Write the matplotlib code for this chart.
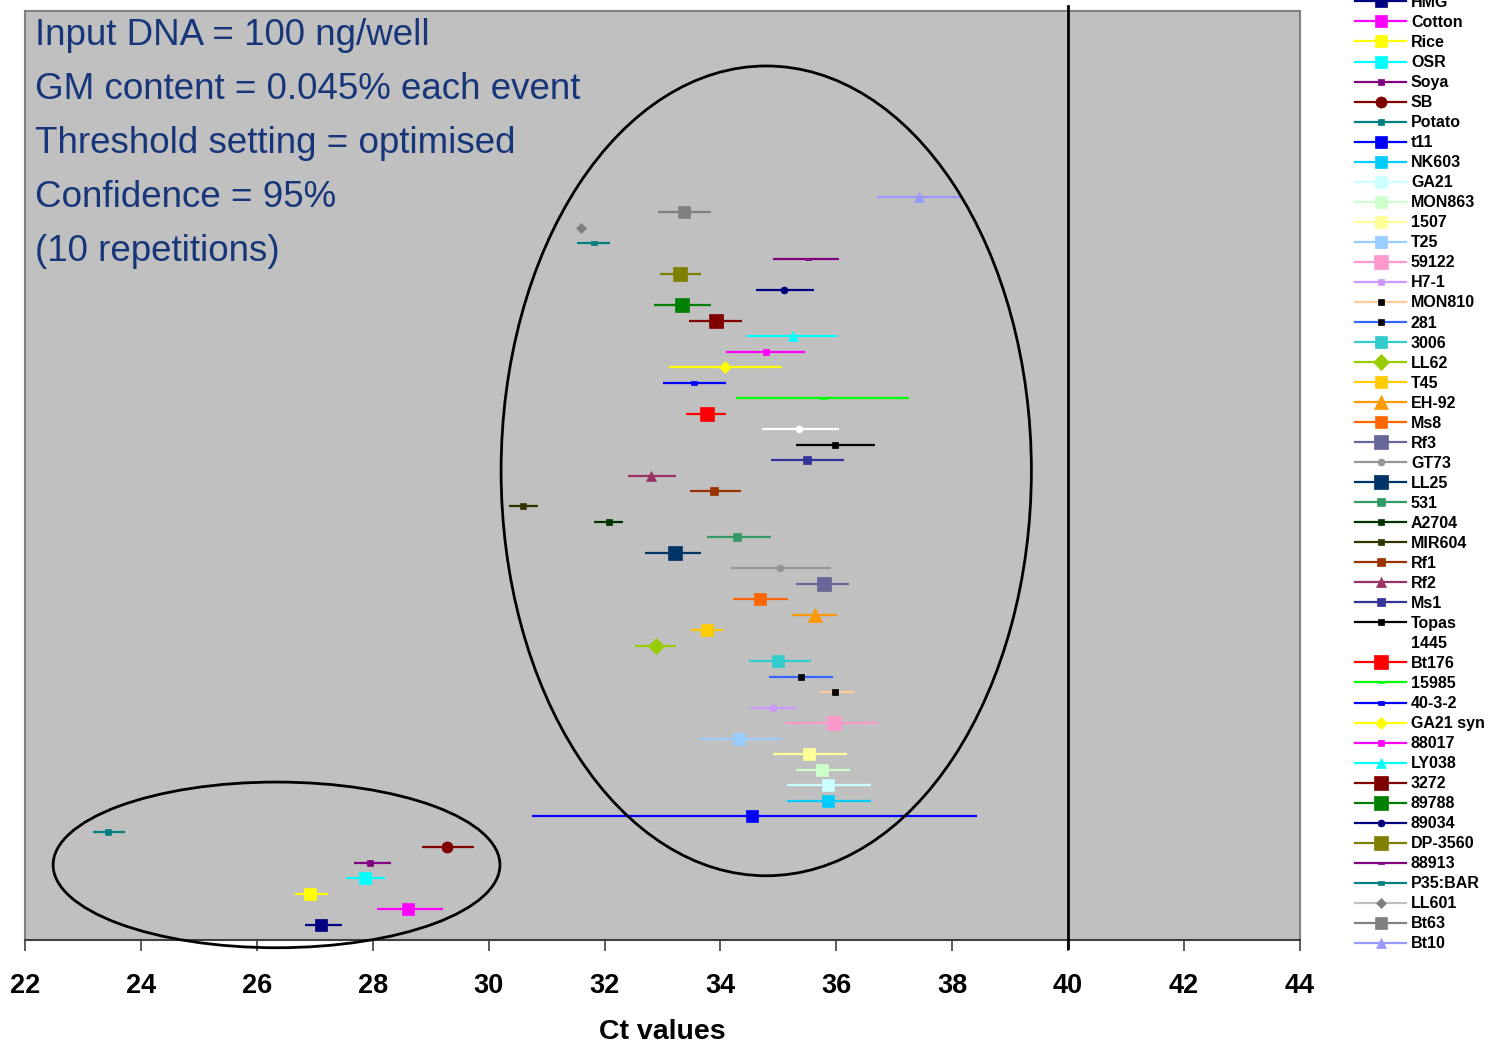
import numpy as np
import matplotlib
matplotlib.use('Agg')
import matplotlib.pyplot as plt
from matplotlib.patches import Ellipse
from matplotlib.path import Path

plt.rcParams['font.family'] = ['Liberation Sans', 'DejaVu Sans']

# GM events, bottom (y=1) to top, same order as legend
events = ['HMG', 'Cotton', 'Rice', 'OSR', 'Soya', 'SB', 'Potato', 't11', 'NK603',
          'GA21', 'MON863', '1507', 'T25', '59122', 'H7-1', 'MON810', '281', '3006',
          'LL62', 'T45', 'EH-92', 'Ms8', 'Rf3', 'GT73', 'LL25', '531', 'A2704',
          'MIR604', 'Rf1', 'Rf2', 'Ms1', 'Topas', '1445', 'Bt176', '15985', '40-3-2',
          'GA21 syn', '88017', 'LY038', '3272', '89788', '89034', 'DP-3560', '88913',
          'P35:BAR', 'LL601', 'Bt63', 'Bt10']

# mean Ct and 95% confidence limits
ct_mean = [27.11, 28.60, 26.92, 27.86, 27.95, 29.29, 23.43, 34.55, 35.85,
           35.85, 35.75, 35.52, 34.32, 35.96, 34.90, 35.98, 35.39, 35.00,
           32.89, 33.76, 35.63, 34.68, 35.78, 35.03, 33.22, 34.28, 32.07,
           30.60, 33.89, 32.80, 35.49, 35.98, 35.36, 33.76, 35.77, 33.55,
           34.07, 34.78, 35.25, 33.92, 33.34, 35.10, 33.30, 35.51,
           31.82, 31.59, 33.37, 37.43]
ct_low = [26.83, 28.07, 26.66, 27.54, 27.68, 28.85, 23.18, 30.74, 35.14,
          35.14, 35.30, 34.91, 33.64, 35.11, 34.52, 35.72, 34.84, 34.49,
          32.53, 33.50, 35.24, 34.22, 35.30, 34.19, 32.69, 33.77, 31.81,
          30.35, 33.48, 32.40, 34.88, 35.30, 34.72, 33.41, 34.26, 33.01,
          33.12, 34.10, 34.45, 33.45, 32.85, 34.61, 32.96, 34.91,
          31.52, 31.55, 32.92, 36.70]
ct_high = [27.47, 29.22, 27.23, 28.21, 28.32, 29.75, 23.72, 38.42, 36.60,
           36.60, 36.24, 36.18, 35.06, 36.72, 35.32, 36.30, 35.94, 35.56,
           33.23, 34.05, 36.01, 35.16, 36.21, 35.91, 33.67, 34.87, 32.32,
           30.86, 34.35, 33.24, 36.14, 36.67, 36.05, 34.09, 37.25, 34.09,
           35.06, 35.46, 36.01, 34.38, 33.83, 35.62, 33.67, 36.05,
           32.09, 31.63, 33.83, 38.13]

colors = ['#000080', '#FF00FF', '#FFFF00', '#00FFFF', '#800080', '#800000', '#008080',
          '#0000FF', '#00CCFF', '#CCFFFF', '#CCFFCC', '#FFFF99', '#99CCFF', '#FF99CC',
          '#CC99FF', '#FFCC99', '#3366FF', '#33CCCC', '#99CC00', '#FFCC00', '#FF9900',
          '#FF6600', '#666699', '#969696', '#003366', '#339966', '#003300', '#333300',
          '#993300', '#993366', '#333399', '#000000', '#FFFFFF', '#FF0000', '#00FF00',
          '#0000FF', '#FFFF00', '#FF00FF', '#00FFFF', '#800000', '#008000', '#000080',
          '#808000', '#800080', '#008080', '#C0C0C0', '#808080', '#9999FF']

rect = Path([(-1, -0.45), (1, -0.45), (1, 0.45), (-1, 0.45), (-1, -0.45)],
            [Path.MOVETO, Path.LINETO, Path.LINETO, Path.LINETO, Path.CLOSEPOLY])

markers = ['s', 's', 's', 's', 's', 'o', 's', 's', 's',
           's', 's', 's', 's', 's', 's', 's', 's', 's',
           'D', 's', '^', 's', 's', 'o', 's', 's', 's',
           's', 's', '^', 's', 's', 'o', 's', rect, rect,
           'D', 's', '^', 's', 's', 'o', 's', rect,
           rect, 'D', 's', '^']
msizes = [8, 8, 8, 8, 5, 8, 5, 8, 8,
          8, 8, 8, 8, 10, 5, 5, 5, 8,
          8, 8, 9.5, 8, 10, 5, 10, 5.3, 5,
          5, 5.3, 6.5, 5.8, 5, 5, 10, 4, 5,
          6, 5, 7, 10, 10, 5, 10, 4,
          5, 5.5, 8, 6.5]
# marker faces that differ from the line colour
face = {'MON810': '#000000', '281': '#000000', 'LL601': '#808080'}

fig = plt.figure(figsize=(14.97, 10.48), dpi=100)
ax = fig.add_axes([25 / 1497, 1 - 940 / 1048, 1275 / 1497, 929 / 1048])
ax.set_facecolor('#C0C0C0')

ypos = np.arange(1, len(events) + 1)
handles = []
for i, name in enumerate(events):
    m = ct_mean[i]
    err = [[m - ct_low[i]], [ct_high[i] - m]]
    fc = face.get(name, colors[i])
    ax.errorbar([m], [ypos[i]], xerr=err, fmt='none', ecolor=colors[i], elinewidth=1.6,
                capsize=0, zorder=3)
    h, = ax.plot([m], [ypos[i]], linestyle='-', color=colors[i], lw=1.6,
                 marker=markers[i], ms=msizes[i], mfc=fc, mec=fc, mew=0.5,
                 label=name, zorder=4)
    handles.append(h)

ax.set_xlim(22, 44)
ax.set_ylim(0, 60)
ax.set_xticks(np.arange(22, 45, 2))
ax.set_yticks([])
ax.tick_params(axis='x', direction='out', length=8, width=1.2, color='#404040',
               pad=16, labelsize=19.5)
for lab in ax.get_xticklabels():
    lab.set_fontweight('bold')
for s in ['top', 'right', 'left']:
    ax.spines[s].set_color('#808080')
    ax.spines[s].set_linewidth(1.5)
ax.spines['bottom'].set_color('#404040')
ax.spines['bottom'].set_linewidth(1.5)
ax.set_xlabel('Ct values', fontsize=20.5, fontweight='bold', labelpad=14)

# cut-off line at Ct 40
threshold_ct = 40
ax.plot([threshold_ct, threshold_ct], [-0.5, 60.35], color='black', lw=2, clip_on=False,
        zorder=5)

# circled groups
ax.add_patch(Ellipse((34.79, 30.3), 9.15, 52.3, fill=False, ec='black', lw=2, zorder=5))
ax.add_patch(Ellipse((26.34, 4.85), 7.71, 10.7, fill=False, ec='black', lw=2, zorder=5,
                     clip_on=False))

notes = ['Input DNA = 100 ng/well', 'GM content = 0.045% each event',
         'Threshold setting = optimised', 'Confidence = 95%', '(10 repetitions)']
for k, t in enumerate(notes):
    ax.text(0.0078, 0.9735 - k * 0.0581, t, transform=ax.transAxes, fontsize=26.5,
            color='#17367A', va='center', ha='left')

leg = fig.legend(handles=handles, loc='upper left', bbox_to_anchor=(1355 / 1497, 1 + 5 / 1048),
                 frameon=False, fontsize=11.5, handlelength=3.2, handletextpad=0.3,
                 labelspacing=0.315, borderpad=0, borderaxespad=0)
for t in leg.get_texts():
    t.set_fontweight('bold')

fig.savefig('out.png', dpi=100)
